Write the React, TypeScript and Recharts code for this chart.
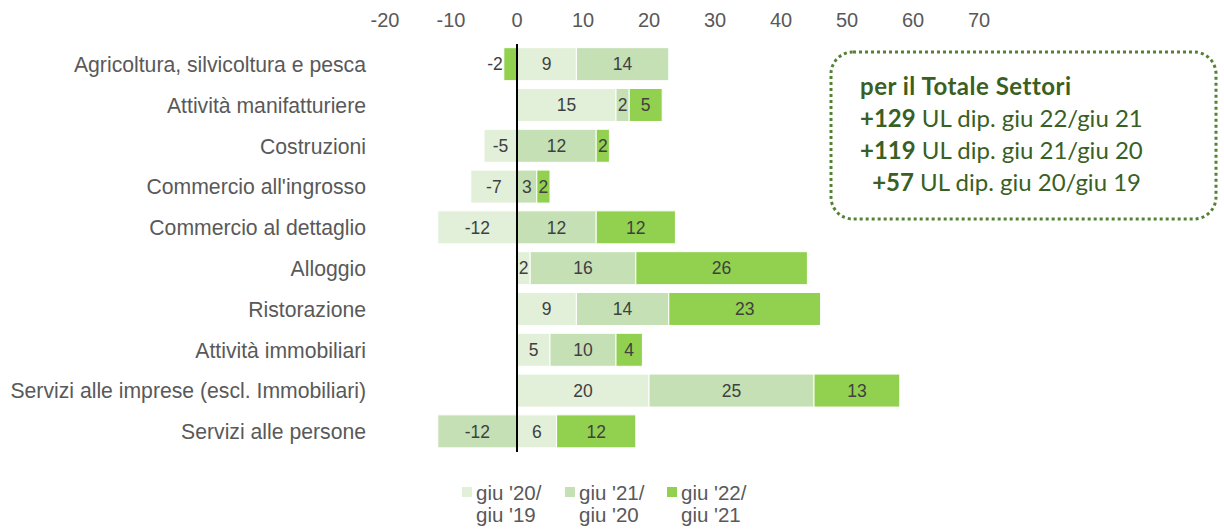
import React from "react";
import {
  BarChart,
  Bar,
  XAxis,
  YAxis,
  LabelList,
  ReferenceLine,
} from "recharts";

// Data
const sectors = [
  "Agricoltura, silvicoltura e pesca",
  "Attività manifatturiere",
  "Costruzioni",
  "Commercio all'ingrosso",
  "Commercio al dettaglio",
  "Alloggio",
  "Ristorazione",
  "Attività immobiliari",
  "Servizi alle imprese (escl. Immobiliari)",
  "Servizi alle persone",
];

const giu20giu19 = [9, 15, -5, -7, -12, 2, 9, 5, 20, 6];
const giu21giu20 = [14, 2, 12, 3, 12, 16, 14, 10, 25, -12];
const giu22giu21 = [-2, 5, 2, 2, 12, 26, 23, 4, 13, 12];

const xTicks = [-20, -10, 0, 10, 20, 30, 40, 50, 60, 70];

const seriesNames = [
  ["giu '20/", "giu '19"],
  ["giu '21/", "giu '20"],
  ["giu '22/", "giu '21"],
];

const totals = [
  { value: "+129", text: " UL dip. giu 22/giu 21" },
  { value: "+119", text: " UL dip. giu 21/giu 20" },
  { value: "+57", text: " UL dip. giu 20/giu 19" },
];

const colors = ["#E2F0D9", "#C5E0B4", "#92D050"];

const data = sectors.map((name, i) => ({
  name,
  s1: giu20giu19[i],
  s2: giu21giu20[i],
  s3: giu22giu21[i],
}));

const font = "'Liberation Sans', Arial, sans-serif";

// centred label; narrow negative bars get the label pushed out to the left
const renderLabel = (props: any) => {
  const { x, y, width, height, value } = props;
  const w = Math.abs(width);
  const left = Math.min(x, x + width);
  const narrow = w < 20 && value < 0;
  return (
    <text
      x={narrow ? left - 1 : left + w / 2}
      y={y + height / 2}
      dy="0.355em"
      textAnchor={narrow ? "end" : "middle"}
      fill="#404040"
      fontSize={17.5}
      fontFamily={font}
    >
      {value}
    </text>
  );
};

export default function App() {
  return (
    <div
      style={{
        position: "absolute",
        left: 0,
        top: 0,
        width: 1224,
        height: 529,
        background: "#fff",
        fontFamily: font,
        overflow: "hidden",
      }}
    >
      <BarChart
        width={1224}
        height={529}
        data={data}
        layout="vertical"
        stackOffset="sign"
        barCategoryGap="9%"
        margin={{ top: 0, right: 245, bottom: 77, left: 0 }}
      >
        <XAxis
          type="number"
          orientation="top"
          domain={[-20, 70]}
          ticks={xTicks}
          height={44}
          axisLine={false}
          tickLine={false}
          tickSize={0}
          tickMargin={17}
          tick={{ fill: "#595959", fontSize: 20, fontFamily: font }}
        />
        <YAxis
          type="category"
          dataKey="name"
          width={385}
          axisLine={false}
          tickLine={false}
          tickSize={0}
          tickMargin={19}
          interval={0}
          tick={{ fill: "#595959", fontSize: 21.2, fontFamily: font }}
        />
        {["s1", "s2", "s3"].map((key, i) => (
          <Bar
            key={key}
            dataKey={key}
            stackId="a"
            fill={colors[i]}
            stroke="#ffffff"
            strokeWidth={1}
            isAnimationActive={false}
          >
            <LabelList dataKey={key} content={renderLabel} />
          </Bar>
        ))}
        <ReferenceLine x={0} stroke="#000" strokeWidth={2} ifOverflow="extendDomain" />
      </BarChart>

      {/* Legend */}
      {seriesNames.map((lines, i) => (
        <div
          key={i}
          style={{
            position: "absolute",
            left: [462, 565, 667][i],
            top: 482,
            display: "flex",
            alignItems: "flex-start",
          }}
        >
          <div
            style={{
              width: 10,
              height: 10,
              background: colors[i],
              marginTop: 5,
              marginRight: 4,
            }}
          />
          <div style={{ color: "#595959", fontSize: 20.5, lineHeight: "22px" }}>
            {lines[0]}
            <br />
            {lines[1]}
          </div>
        </div>
      ))}

      {/* Totale box */}
      <svg
        width={1224}
        height={529}
        style={{ position: "absolute", left: 0, top: 0, pointerEvents: "none" }}
      >
        <rect
          x={831}
          y={52}
          width={385}
          height={167}
          rx={22}
          ry={22}
          fill="none"
          stroke="#548235"
          strokeWidth={3}
          strokeDasharray="3 3"
        />
      </svg>
      <div
        style={{
          position: "absolute",
          left: 860,
          top: 70,
          fontFamily: "Lato, 'Open Sans', sans-serif",
          fontSize: 24,
          lineHeight: "32px",
          color: "#3A5F24",
        }}
      >
        <div style={{ fontWeight: 700, letterSpacing: 0.5 }}>per il Totale Settori</div>
        <div style={{ width: 281, textAlign: "right" }}>
          {totals.map((t) => (
            <div key={t.value} style={{ whiteSpace: "nowrap" }}>
              <b>{t.value}</b>
              {t.text}
            </div>
          ))}
        </div>
      </div>
    </div>
  );
}
